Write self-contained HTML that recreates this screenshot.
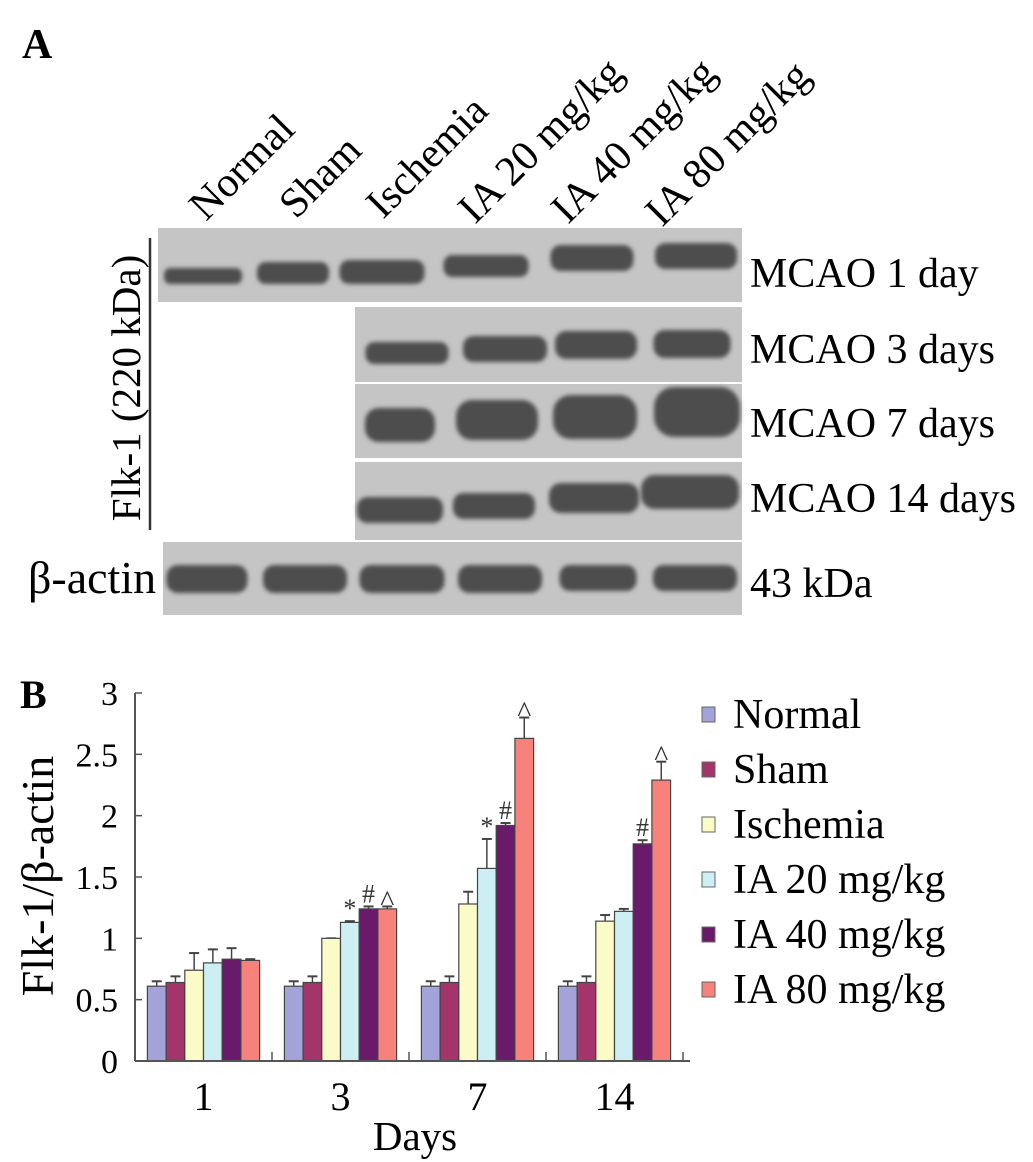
<!DOCTYPE html>
<html><head><meta charset="utf-8"><style>
body{margin:0;background:#fff}
svg{display:block;font-family:"Liberation Serif",serif}
</style></head><body>
<svg width="1033" height="1162" viewBox="0 0 1033 1162">
<defs>
<filter id="blur" x="-20%" y="-50%" width="140%" height="200%"><feGaussianBlur stdDeviation="2.2"/></filter>
</defs>
<text x="22" y="58" font-size="42" font-weight="bold">A</text>
<text x="20" y="708" font-size="40" font-weight="bold">B</text>
<g id="blot"></g>
<g id="chart"></g>
</svg>
<script>
const NS='http://www.w3.org/2000/svg';
function mk(parent,tag,attrs,text){const e=document.createElementNS(NS,tag);for(const k in attrs)e.setAttribute(k,attrs[k]);if(text!==undefined)e.textContent=text;parent.appendChild(e);return e;}

// ---------- Blot ----------
const blot=document.getElementById('blot');
const laneNames=['Normal','Sham','Ischemia','IA 20 mg/kg','IA 40 mg/kg','IA 80 mg/kg'];
const laneLabelX=[206,296,383,475,568,662];
const laneLabelY=[222,220,220,225,225,228];
laneNames.forEach((n,i)=>{
  const t=mk(blot,'text',{x:laneLabelX[i],y:laneLabelY[i],'font-size':42,transform:`rotate(-45 ${laneLabelX[i]} ${laneLabelY[i]})`},n);
  
  
});
const panels=[
 {x:158,y:228,w:584,h:74,cx:[203,293,382,486,592,696],bw:[78,72,85,85,83,82],bh:[16,22,24,22,26,26],by:[276,273,272,266,258,256],label:'MCAO 1 day',ly:287},
 {x:355,y:307,w:387,h:75,cx:[407,505,596,692],bw:[83,84,82,77],bh:[22,26,28,28],by:[353,349,345,344],label:'MCAO 3 days',ly:363},
 {x:355,y:384,w:387,h:74,cx:[400,497,595,697],bw:[70,82,84,86],bh:[34,40,44,50],by:[425,420,417,412],label:'MCAO 7 days',ly:437},
 {x:355,y:462,w:387,h:78,cx:[400,494,594,690],bw:[86,82,90,98],bh:[26,26,30,34],by:[510,506,498,492],label:'MCAO 14 days',ly:512},
 {x:163,y:542,w:579,h:73,cx:[207,305,402,500,598,695],bw:[81,84,85,84,77,84],bh:[28,28,28,28,26,26],by:[579,579,579,579,578,578],label:'43 kDa',ly:597}
];
panels.forEach((p)=>{
  const r=mk(blot,'rect',{x:p.x,y:p.y,width:p.w,height:p.h,fill:'#c5c5c5'});
  
  
  p.cx.forEach((cx,j)=>{
    const b=mk(blot,'rect',{x:cx-p.bw[j]/2,y:p.by[j]-p.bh[j]/2,width:p.bw[j],height:p.bh[j],rx:p.bh[j]/2.5,fill:'#4e4e4e',filter:'url(#blur)'});
    
    
  });
  const t=mk(blot,'text',{x:750,y:p.ly,'font-size':42},p.label);
  
  
});
mk(blot,'line',{x1:150,y1:238,x2:150,y2:530,stroke:'#333','stroke-width':2.5});
const fl=mk(blot,'text',{x:140,y:388,'font-size':41,'text-anchor':'middle',transform:'rotate(-90 140 388)'},'Flk-1 (220 kDa)');


const ba=mk(blot,'text',{x:28,y:593,'font-size':46},'β-actin');



// ---------- Chart ----------
const categories=['1','3','7','14'];
const seriesNames=['Normal','Sham','Ischemia','IA 20 mg/kg','IA 40 mg/kg','IA 80 mg/kg'];
const normalVals=[0.61,0.61,0.61,0.61];
const shamVals=[0.64,0.64,0.64,0.64];
const ischemiaVals=[0.74,1.00,1.28,1.14];
const ia20Vals=[0.80,1.13,1.57,1.22];
const ia40Vals=[0.83,1.24,1.92,1.77];
const ia80Vals=[0.82,1.24,2.63,2.29];
const normalErr=[0.04,0.04,0.04,0.04];
const shamErr=[0.05,0.05,0.05,0.05];
const ischemiaErr=[0.14,0.0,0.10,0.05];
const ia20Err=[0.11,0.01,0.24,0.02];
const ia40Err=[0.09,0.02,0.02,0.03];
const ia80Err=[0.01,0.02,0.17,0.15];
const marks3=['','*','#','^'];
const marks7=['','*','#','^'];
const marks14=['','','#','^'];
const yTicks=[0,0.5,1,1.5,2,2.5,3];
const yTickLabels=['0','0.5','1','1.5','2','2.5','3'];
const colors=['#a3a3d9','#a3356b','#fbfbc8','#cdeef3','#6a1a6a','#f7827c'];

const chart=document.getElementById('chart');
const X0=135,X1=690,Y0=1061,Y3=693;
const y=v=>Y0-(v/3)*(Y0-Y3);
const groupW=137;
const barW=18.7;
const gx=i=>X0+groupW*i+groupW/2;
const bx=(i,s)=>gx(i)-barW*3+barW*s;

const vals=[normalVals,shamVals,ischemiaVals,ia20Vals,ia40Vals,ia80Vals];
const errs=[normalErr,shamErr,ischemiaErr,ia20Err,ia40Err,ia80Err];
categories.forEach((c,i)=>{
  vals.forEach((arr,s)=>{
    const v=arr[i],e=errs[s][i];
    const xx=bx(i,s);
    const top=y(v+e);
    const el=mk(chart,'line',{x1:xx+barW/2,y1:y(v),x2:xx+barW/2,y2:top,stroke:'#444','stroke-width':1.5});
    
    
    mk(chart,'line',{x1:xx+barW/2-5,y1:top,x2:xx+barW/2+5,y2:top,stroke:'#444','stroke-width':2});
    const r=mk(chart,'rect',{x:xx,y:y(v),width:barW,height:Y0-y(v),fill:colors[s],stroke:'#444','stroke-width':1.2});
    
    
  });
  const lab=mk(chart,'text',{x:gx(i),y:1110,'font-size':40,'text-anchor':'middle'},c);
  
  
  mk(chart,'line',{x1:X0+groupW*(i+1),y1:Y0,x2:X0+groupW*(i+1),y2:Y0-9,stroke:'#555','stroke-width':1.5});
});
// significance marks
[[1,marks3],[2,marks7],[3,marks14]].forEach(([i,m])=>{
  m.forEach((sym,k)=>{
    if(!sym)return;
    const s=k+2;
    const top=y(vals[s][i]+errs[s][i]);
    const t=mk(chart,'text',{x:bx(i,s)+barW/2,y:top-(sym==='^'?-4:4),'font-size':sym==='^'?30:26,'text-anchor':'middle',fill:'#333'},sym);
    
    
  });
});
// axes
mk(chart,'line',{x1:X0,y1:Y3,x2:X0,y2:Y0,stroke:'#555','stroke-width':2});
mk(chart,'line',{x1:X0,y1:Y0,x2:X1,y2:Y0,stroke:'#555','stroke-width':2});
yTicks.forEach((t,k)=>{
  mk(chart,'line',{x1:X0,y1:y(t),x2:X0+7,y2:y(t),stroke:'#555','stroke-width':1.5});
  const tl=mk(chart,'text',{x:118,y:y(t)+12,'font-size':34,'text-anchor':'end'},yTickLabels[k]);
  
  
});
const yt=mk(chart,'text',{x:53,y:876,'font-size':46,'text-anchor':'middle',transform:'rotate(-90 53 876)'},'Flk-1/β-actin');


const xt=mk(chart,'text',{x:415,y:1150,'font-size':41,'text-anchor':'middle'},'Days');


// legend
seriesNames.forEach((n,s)=>{
  const base=728+s*55;
  const sq=mk(chart,'rect',{x:702,y:base-21,width:13,height:15,fill:colors[s],stroke:'#666','stroke-width':1});
  
  
  const t=mk(chart,'text',{x:733,y:base,'font-size':42},n);
  
  
});
</script>
</body></html>
